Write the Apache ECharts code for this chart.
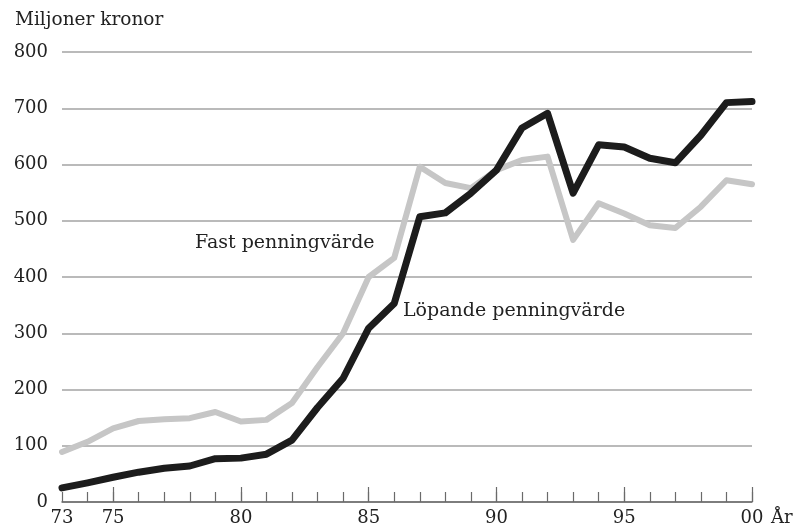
<!DOCTYPE html>
<html>
<head>
<meta charset="utf-8">
<script src="https://cdn.jsdelivr.net/npm/echarts@6/dist/echarts.min.js"></script>
<style>
  html, body { margin: 0; padding: 0; background: #fff; }
  #chart { width: 803px; height: 530px; }
</style>
</head>
<body>
<div id="chart"></div>
<script>
// år 1973 - 2000
const years = [1973, 1974, 1975, 1976, 1977, 1978, 1979, 1980, 1981, 1982, 1983, 1984, 1985, 1986,
  1987, 1988, 1989, 1990, 1991, 1992, 1993, 1994, 1995, 1996, 1997, 1998, 1999, 2000];
// löpande penningvärde (svart)
const lopande = [25, 34, 44, 53, 60, 64, 77, 78, 85, 110, 168, 220, 309, 353,
  507, 514, 549, 590, 665, 691, 549, 635, 631, 611, 603, 652, 710, 712];
// fast penningvärde (grå)
const fast = [89, 107, 131, 144, 147, 149, 160, 143, 146, 176, 240, 300, 400, 434,
  596, 567, 558, 590, 608, 614, 466, 531, 513, 492, 487, 525, 572, 565];
const xLabelYears = [1973, 1975, 1980, 1985, 1990, 1995, 2000];
const majorTickYears = [1975, 1980, 1985, 1990, 1995, 2000];

const font = '"DejaVu Serif", serif';
const txt = '#222';

const toPairs = arr => years.map((y, i) => [y, arr[i]]);

const chart = echarts.init(document.getElementById('chart'));
chart.setOption({
  animation: false,
  backgroundColor: '#fff',
  title: {
    text: 'Miljoner kronor',
    left: 10, top: 6,
    textStyle: { fontFamily: font, fontSize: 18.5, fontWeight: 'normal', color: txt }
  },
  grid: { left: 62, right: 51, top: 52, bottom: 28 },
  xAxis: [
    {
      type: 'value', min: 1973, max: 2000, interval: 1,
      name: 'År', nameLocation: 'end', nameGap: 19,
      nameTextStyle: { fontFamily: font, fontSize: 18, color: txt, verticalAlign: 'top', padding: [7, 0, 0, 0] },
      axisLine: { show: true, lineStyle: { color: '#6a6a6a', width: 1.5 } },
      axisTick: { show: true, inside: true, length: 10, lineStyle: { color: '#6a6a6a', width: 1.2 } },
      axisLabel: { show: false },
      splitLine: { show: false }
    },
    {
      type: 'value', min: 1973, max: 2000, position: 'bottom',
      axisLine: { show: false },
      axisTick: { show: true, inside: true, length: 15, customValues: majorTickYears,
        lineStyle: { color: '#6a6a6a', width: 1.2 } },
      axisLabel: {
        show: true, customValues: xLabelYears, margin: 7,
        fontFamily: font, fontSize: 18, color: txt,
        formatter: v => String(v).slice(2)
      },
      splitLine: { show: false }
    }
  ],
  yAxis: {
    type: 'value', min: 0, max: 800, interval: 100,
    axisLine: { show: false },
    axisTick: { show: false },
    axisLabel: { margin: 14, fontFamily: font, fontSize: 18, color: txt },
    splitLine: { lineStyle: { color: '#a3a3a3', width: 1.5 } }
  },
  series: [
    {
      name: 'Fast penningvärde', type: 'line', data: toPairs(fast),
      symbol: 'none', z: 2,
      lineStyle: { color: '#c6c6c6', width: 6, join: 'round', cap: 'round' }
    },
    {
      name: 'Löpande penningvärde', type: 'line', data: toPairs(lopande),
      symbol: 'none', z: 3,
      lineStyle: { color: '#1c1c1c', width: 7, join: 'round', cap: 'round' }
    }
  ],
  graphic: [
    { type: 'text', left: 195, top: 234,
      style: { text: 'Fast penningvärde', font: '19px ' + font, fill: txt } },
    { type: 'text', left: 403, top: 302,
      style: { text: 'Löpande penningvärde', font: '19px ' + font, fill: txt } }
  ]
});
</script>
</body>
</html>
